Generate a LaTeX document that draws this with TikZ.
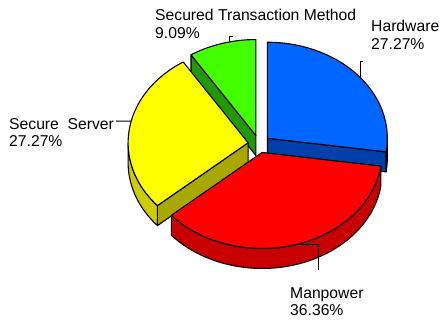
\documentclass[tikz,border=0pt]{standalone}
\usepackage{fontspec}
\setmainfont{Liberation Sans}
\usetikzlibrary{calc}

\definecolor{hwtop}{RGB}{0,102,255}
\definecolor{hwside}{RGB}{0,64,170}
\definecolor{mptop}{RGB}{255,0,0}
\definecolor{mpside}{RGB}{200,0,0}
\definecolor{sstop}{RGB}{255,255,0}
\definecolor{ssside}{RGB}{204,204,0}
\definecolor{ssedge}{RGB}{168,168,0}
\definecolor{sttop}{RGB}{68,255,0}
\definecolor{stside}{RGB}{34,153,0}

\begin{document}
\begin{tikzpicture}[
        x = 1pt, y = 1pt, % one unit = one pixel
        face/.style = {draw = black, line width = 1.1pt, line join = round},
        leader/.style = {draw = black, line width = 1pt},
        lbl/.style = {anchor = north west, inner sep = 0pt, align = left,
                      font = \fontsize{15.7}{17.5}\selectfont}
    ]

    \useasboundingbox (0,0) rectangle (441,321);

    % centre of the pie and the exploded apexes
    \coordinate (C) at (259,177);
    \coordinate (Pb) at ($(C)+(40.91:11 and 8.8)$);
    \coordinate (Pr) at ($(C)+(-73.64:11 and 8.8)$);
    \coordinate (Py) at ($(C)+(171.82:11 and 8.8)$);
    \coordinate (Pg) at ($(C)+(106.36:11 and 8.8)$);

    % Secured Transaction Method
    \path[face, fill = stside] (Pg) -- ++(122.73:120 and 96) -- ++(0,-20)
        -- ++(302.73:120 and 96) -- cycle;
    \path[face, fill = sttop] (Pg) -- ++(90:120 and 96)
        arc[start angle = 90, end angle = 122.73, x radius = 120, y radius = 96] -- cycle;

    % Hardware
    \path[face, fill = hwside] (Pb) -- ++(-8.18:120 and 96) -- ++(0,-20)
        -- ++(171.82:120 and 96) -- cycle;
    \path[face, fill = hwside] ($(Pb)+(-8.18:120 and 96)$)
        arc[start angle = -8.18, end angle = 0, x radius = 120, y radius = 96]
        -- ++(0,-20)
        arc[start angle = 0, end angle = -8.18, x radius = 120, y radius = 96] -- cycle;
    \path[face, fill = hwtop] (Pb) -- ++(90:120 and 96)
        arc[start angle = 90, end angle = -8.18, x radius = 120, y radius = 96] -- cycle;

    % Secure Server
    \path[face, fill = ssedge] (Py) -- ++(220.91:120 and 96) -- ++(0,-20)
        -- ++(40.91:120 and 96) -- cycle;
    \path[face, fill = ssside] ($(Py)+(180:120 and 96)$)
        arc[start angle = 180, end angle = 220.91, x radius = 120, y radius = 96]
        -- ++(0,-20)
        arc[start angle = 220.91, end angle = 180, x radius = 120, y radius = 96] -- cycle;
    \path[face, fill = sstop] (Py) -- ++(122.73:120 and 96)
        arc[start angle = 122.73, end angle = 220.91, x radius = 120, y radius = 96] -- cycle;

    % Manpower
    \path[face, fill = mpside] ($(Pr)+(-139.09:120 and 96)$)
        arc[start angle = -139.09, end angle = -8.18, x radius = 120, y radius = 96]
        -- ++(0,-20)
        arc[start angle = -8.18, end angle = -139.09, x radius = 120, y radius = 96] -- cycle;
    \path[face, fill = mptop] (Pr) -- ++(-139.09:120 and 96)
        arc[start angle = -139.09, end angle = -8.18, x radius = 120, y radius = 96] -- cycle;

    % labels
    \node[lbl] (st) at (155,312) {Secured Transaction Method\\9.09\%};
    \node[lbl] (hw) at (371,301) {Hardware\\27.27\%};
    \node[lbl] (ss) at (9,203) {Secure\ \ Server\\27.27\%};
    \node[lbl] (mp) at (290,34) {Manpower\\36.36\%};

    % leader lines
    \coordinate (stp) at ($(Pg)+(102.5:120 and 96)$);
    \coordinate (sttick) at (233,284);
    \coordinate (hwp) at ($(Pb)+(39.4:120 and 96)$);
    \coordinate (hwtick) at (363,259);
    \coordinate (ssp) at ($(Py)+(167:120 and 96)$);
    \coordinate (ssend) at (116,200);
    \coordinate (mpp) at ($(Pr)+(-72.6:120 and 96)$);
    \coordinate (mpend) at (318,51);

    \draw[leader] (stp) |- (sttick);
    \draw[leader] (hwp) |- (hwtick);
    \draw[leader] (ssp) -- (ssend);
    \draw[leader] (mpp) -| (mpend);
\end{tikzpicture}
\end{document}
